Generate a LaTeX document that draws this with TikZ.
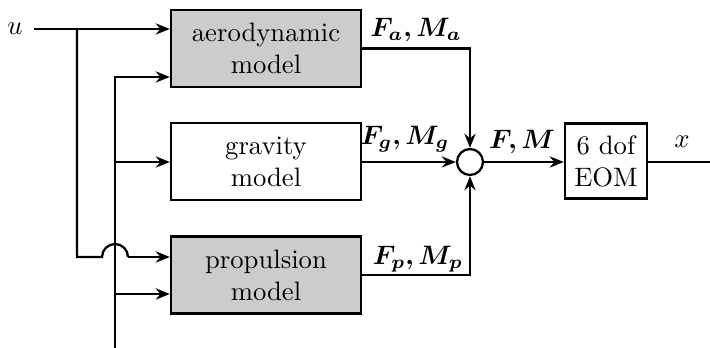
\documentclass[tikz,border=0pt]{standalone}
\usepackage{amsmath,bm}
\usetikzlibrary{arrows.meta}
\begin{document}
\begin{tikzpicture}[x=0.375pt,y=-0.375pt, line width=0.85pt,
  blk/.style={draw, line width=0.85pt, minimum width=71.25pt, minimum height=28.9pt, inner sep=0pt, align=center},
  shadeblk/.style={blk, fill=black!20},
  eom/.style={draw, line width=0.85pt, minimum width=30.75pt, minimum height=28.1pt, inner sep=0pt, align=center},
  sumc/.style={draw, circle, line width=0.85pt, minimum size=9.75pt, inner sep=0pt},
  arr/.style={-{Stealth[length=5.3pt,width=4.2pt]}},
  lbl/.style={inner sep=0pt, anchor=base}]
\useasboundingbox (0,0) rectangle (710,348);
\node[shadeblk] (aero) at (266,48.5) {aerodynamic\\model};
\node[blk] (grav) at (266,161.5) {gravity\\model};
\node[shadeblk] (prop) at (266,275) {propulsion\\model};
\node[sumc] (sum) at (470,162) {};
\node[eom] (eom) at (606,161) {6 dof\\EOM};
\node[inner sep=0pt] (u) at (15,29) {$u$};
\coordinate (ustart) at (34,29);
\coordinate (b1) at (77,29);
\coordinate (b1low) at (77,257);
\coordinate (b2top) at (115,77);
\coordinate (b2g) at (115,162);
\coordinate (b2p) at (115,294);
\coordinate (b2bot) at (115,348);
\coordinate (jl) at (102,257);
\coordinate (jr) at (128,257);
\coordinate (xend) at (710,162);
% inputs
\draw[arr] (ustart) -- (aero.west |- ustart);
\draw (b1) -- (b1low) -- (jl) arc[start angle=180, end angle=360, radius=13];
\draw[arr] (jr) -- (prop.west |- jr);
\draw[arr] (b2bot) -- (b2top) -- (aero.west |- b2top);
\draw[arr] (b2g) -- (grav.west |- b2g);
\draw[arr] (b2p) -- (prop.west |- b2p);
% outputs
\draw[arr] (aero.east) -| (sum.north);
\draw[arr] (grav.east |- sum) -- (sum.west);
\draw[arr] (prop.east) -| (sum.south);
\draw[arr] (sum.east) -- (eom.west |- sum);
\draw (eom.east |- sum) -- (xend);
% labels
\node[lbl] at (416,37) {$\bm{F_a, M_a}$};
\node[lbl] at (405,145) {$\bm{F_g, M_g}$};
\node[lbl] at (418,265) {$\bm{F_p, M_p}$};
\node[lbl] at (522,149) {$\bm{F, M}$};
\node[lbl] at (682,148) {$x$};
\end{tikzpicture}
\end{document}
